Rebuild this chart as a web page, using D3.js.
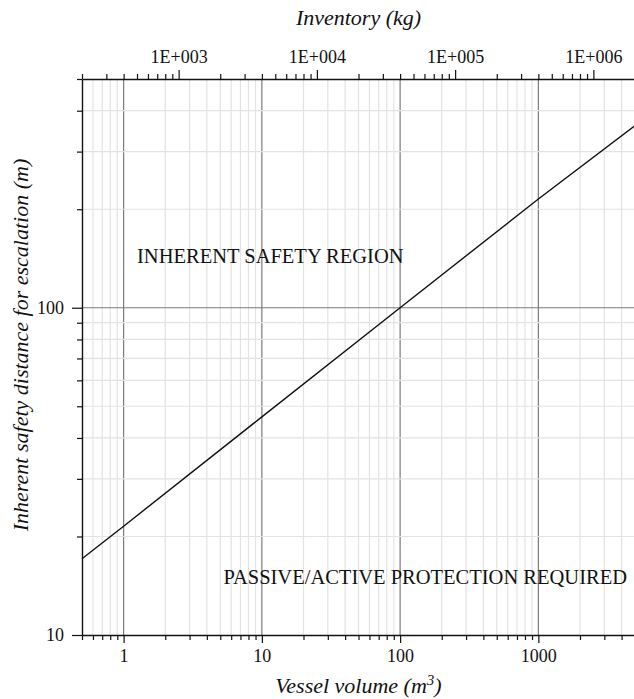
<!DOCTYPE html>
<html>
<head>
<meta charset="utf-8">
<script src="https://cdn.jsdelivr.net/npm/d3@7"></script>
<style>
  body { margin: 0; background: #fff; }
  svg { display: block; }
  text { font-family: "Liberation Serif", "DejaVu Serif", serif; fill: #111; }
</style>
</head>
<body>
<svg id="chart" width="634" height="699"></svg>
<script>
"use strict";

// vessel volume (m3) vs inherent safety distance (m)
const volume = [0.5, 1, 10, 100, 1000, 5000];
const distance = [17.1, 21.5, 46.4, 100, 215, 360];

const volumeDomain = [0.5, 5000];
const distanceDomain = [10, 500];
const inventoryDomain = [200, 2000000];   // kg, top axis

const volumeMajor = [1, 10, 100, 1000];
const distanceMajor = [10, 100];
const inventoryMajor = [1e3, 1e4, 1e5, 1e6];

const regionLabels = ["INHERENT SAFETY REGION", "PASSIVE/ACTIVE PROTECTION REQUIRED"];

const svg = d3.select("#chart");
const pLeft = 82, pRight = 635, pTop = 79, pBottom = 635;

const x = d3.scaleLog().domain(volumeDomain).range([pLeft, pRight]);
const y = d3.scaleLog().domain(distanceDomain).range([pBottom, pTop]);
const xi = d3.scaleLog().domain(inventoryDomain).range([pLeft, pRight]);

// all log subdivisions inside a domain
function logTicks(dom) {
  let out = [];
  for (let p = Math.floor(Math.log10(dom[0])); p <= Math.ceil(Math.log10(dom[1])); p++) {
    for (let m = 1; m < 10; m++) {
      let v = +(m * Math.pow(10, p)).toPrecision(6);
      if (v >= dom[0] * 0.999 && v <= dom[1] * 1.001) out.push(v);
    }
  }
  return out;
}
const isMajor = (list) => (d) => list.some(m => Math.abs(m - d) / m < 1e-6);

const xTicks = logTicks(volumeDomain);
const yTicks = logTicks(distanceDomain);
const iTicks = logTicks(inventoryDomain);

// grid
let grid = svg.append("g");
grid.selectAll("line.vx")
  .data(xTicks.filter(d => d > volumeDomain[0]))
  .enter().append("line")
  .attr("x1", d => x(d)).attr("x2", d => x(d))
  .attr("y1", pTop).attr("y2", pBottom)
  .style("stroke", d => isMajor(volumeMajor)(d) ? "#7a7a7a" : "#e3e3e3")
  .style("stroke-width", 1.2);

grid.selectAll("line.hy")
  .data(yTicks.filter(d => d > distanceDomain[0] && d < distanceDomain[1]))
  .enter().append("line")
  .attr("x1", pLeft).attr("x2", pRight)
  .attr("y1", d => y(d)).attr("y2", d => y(d))
  .style("stroke", d => isMajor(distanceMajor)(d) ? "#7a7a7a" : "#e3e3e3")
  .style("stroke-width", 1.2);

// curve
const line = d3.line().x((d, i) => x(volume[i])).y(d => y(d));
svg.append("path")
  .datum(distance)
  .attr("d", line)
  .style("fill", "none")
  .style("stroke", "#111")
  .style("stroke-width", 1.4);

// bottom axis
let gx = svg.append("g")
  .attr("transform", `translate(0,${pBottom})`)
  .call(d3.axisBottom(x).tickValues(xTicks)
    .tickFormat(d => isMajor(volumeMajor)(d) ? d3.format("d")(d) : "")
    .tickSizeOuter(0));
gx.selectAll(".tick line").attr("y2", d => isMajor(volumeMajor)(d) ? 8 : 5);

// left axis
let gy = svg.append("g")
  .attr("transform", `translate(${pLeft},0)`)
  .call(d3.axisLeft(y).tickValues(yTicks)
    .tickFormat(d => isMajor(distanceMajor)(d) ? d3.format("d")(d) : "")
    .tickSizeOuter(0));
gy.selectAll(".tick line").attr("x2", d => isMajor(distanceMajor)(d) ? -10 : -5);

// top axis, inventory
let gt = svg.append("g")
  .attr("transform", `translate(0,${pTop})`)
  .call(d3.axisTop(xi).tickValues(iTicks)
    .tickFormat(d => isMajor(inventoryMajor)(d) ? "1E+" + String(Math.round(Math.log10(d))).padStart(3, "0") : "")
    .tickSizeOuter(0));
gt.selectAll(".tick line").attr("y2", d => isMajor(inventoryMajor)(d) ? -9 : -5);

[gx, gy, gt].forEach(g => {
  g.select(".domain").style("stroke", "#111").style("stroke-width", 1.4);
  g.selectAll(".tick line").style("stroke", "#111").style("stroke-width", 1.2);
  g.selectAll(".tick text")
    .style("font-family", "Liberation Serif")
    .style("font-size", "18px")
    .style("fill", "#111");
});
gx.selectAll(".tick text").attr("y", 14);
gy.selectAll(".tick text").attr("x", -18);
gt.selectAll(".tick text").attr("y", -16);

// axis titles
svg.append("text")
  .attr("x", (pLeft + pRight) / 2).attr("y", 25)
  .attr("text-anchor", "middle")
  .style("font-style", "italic").style("font-size", "22px")
  .text("Inventory (kg)");

let xt = svg.append("text")
  .attr("x", (pLeft + pRight) / 2).attr("y", 693)
  .attr("text-anchor", "middle")
  .style("font-style", "italic").style("font-size", "22px");
xt.append("tspan").text("Vessel volume (m");
xt.append("tspan").attr("dy", -8).style("font-size", "15px").text("3");
xt.append("tspan").attr("dy", 8).text(")");

svg.append("text")
  .attr("transform", `translate(28,345) rotate(-90)`)
  .attr("text-anchor", "middle")
  .style("font-style", "italic").style("font-size", "22px")
  .text("Inherent safety distance for escalation (m)");

// region labels
svg.append("text")
  .attr("x", 137).attr("y", 263)
  .style("font-size", "20.5px")
  .text(regionLabels[0]);

svg.append("text")
  .attr("x", 627).attr("y", 584)
  .attr("text-anchor", "end")
  .style("font-size", "20.5px")
  .text(regionLabels[1]);
</script>
</body>
</html>
